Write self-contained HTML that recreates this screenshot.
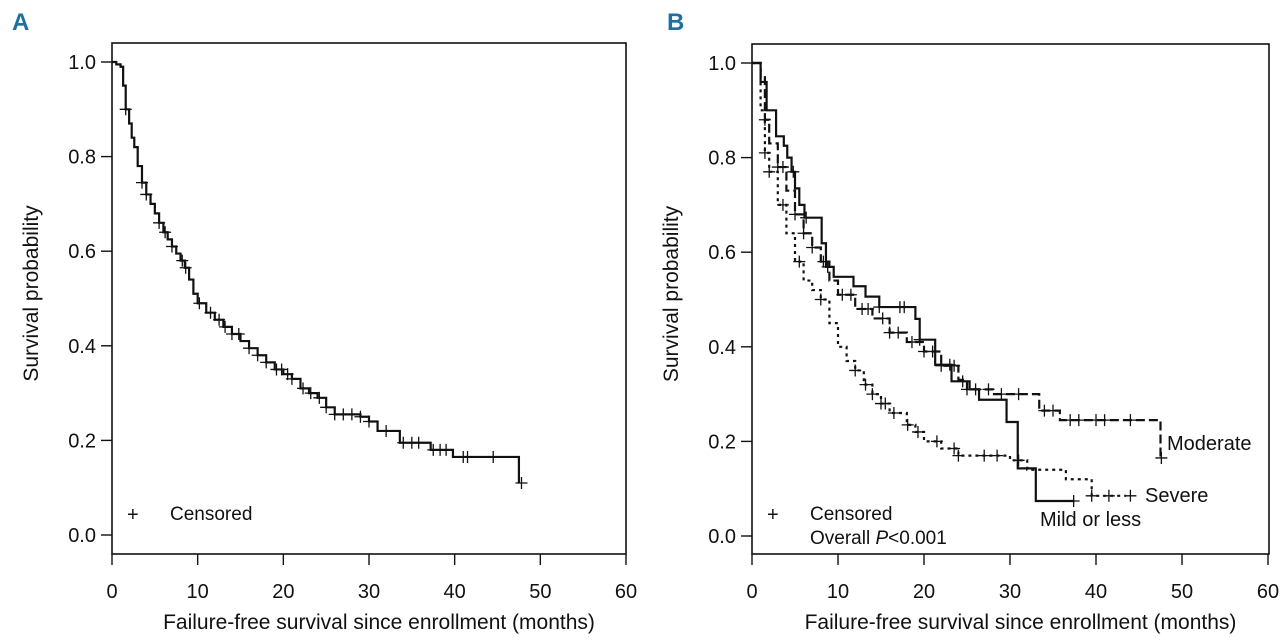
<!DOCTYPE html>
<html><head><meta charset="utf-8">
<style>
html,body{margin:0;padding:0;background:#fff;}
svg{display:block;}
text{font-family:"Liberation Sans Narrow","Liberation Sans",sans-serif;fill:#111;}
</style></head>
<body>
<svg id="chart" width="1280" height="644" viewBox="0 0 1280 644">
<text x="12" y="30" font-size="24" font-weight="bold" style="fill:#1f6fa0">A</text>
<text x="667" y="30" font-size="24" font-weight="bold" style="fill:#1f6fa0">B</text>
</svg>
<script>
// Panel A overall KM curve
const aTimes = [0,0.5,1,1.3,1.6,2,2.3,2.6,3,3.5,4,4.5,5,5.5,6,6.5,7,7.5,8,8.5,9,9.5,10,11,12,13,14,15,16,17,18,19,20,21,22,23,24,25,26,29,30,31,33.6,37.2,39.8,47.5];
const aSurv  = [1,0.995,0.99,0.95,0.9,0.87,0.84,0.82,0.78,0.745,0.72,0.70,0.68,0.66,0.64,0.625,0.61,0.595,0.58,0.565,0.54,0.51,0.49,0.47,0.455,0.44,0.425,0.41,0.395,0.38,0.365,0.35,0.34,0.33,0.31,0.3,0.29,0.27,0.255,0.25,0.24,0.22,0.195,0.18,0.165,0.11];
const aCensT = [1.6,3.5,4,5.5,6.2,7,8.2,8.6,10.2,11.5,12.5,13.2,14,14.8,16,17,18,19.2,19.8,20.5,21,22.3,23.2,24.2,25,26,27,28,29,30,32,34,35,35.8,37.5,38.3,39,41,41.5,44.5,47.8];
// Panel B groups
const mildT = [0,1,1.7,2.8,3.7,4.1,4.6,5,5.5,6.1,8.1,8.6,9.5,11.8,13.2,14.8,19,19.5,21.3,23.2,25.3,26.4,29.6,30.9,33,37.5];
const mildS = [1,0.96,0.9,0.845,0.825,0.8,0.77,0.735,0.7,0.673,0.619,0.569,0.548,0.528,0.506,0.484,0.459,0.415,0.362,0.327,0.31,0.288,0.241,0.143,0.074,0.074];
const mildCensT = [4.8,6.3,8.8,14.8,17.2,17.7,19.5,23,24.5,37.4];
const modT = [0,1,1.5,2,3,4,5,6,7,8,9,10,12,14,16,18,20,22,24,25,28,33.4,35.8,47.5,47.6];
const modS = [1,0.97,0.88,0.83,0.78,0.73,0.68,0.64,0.61,0.58,0.54,0.51,0.48,0.46,0.43,0.41,0.39,0.36,0.33,0.31,0.30,0.265,0.245,0.165,0.165];
const modCensT = [1.5,3,3.6,5,6,7,8.3,10.5,11.5,12.8,13.5,15.2,16,17,18.6,20,21,22,23.5,25,26,27.5,29,31,34,35,37,38,40,41,44,47.6];
const sevT = [0,1,1.5,2,3,4,5,6,7,8,9,10,11,12,13,14,15,16,18,19,20,22,24,28,30,32,36.5,39.5,43.5];
const sevS = [1,0.9,0.81,0.77,0.70,0.64,0.58,0.54,0.52,0.50,0.45,0.40,0.37,0.35,0.32,0.30,0.28,0.26,0.235,0.22,0.2,0.185,0.17,0.17,0.16,0.14,0.12,0.085,0.085];
const sevCensT = [1.5,2,3.6,5.5,8,12,13.2,14,15,15.5,16.5,18.1,19.3,21.5,23.5,24,27,28.5,31,39.5,41.5,44];
const xTicks = [0,10,20,30,40,50,60];
const yTicks = [0,0.2,0.4,0.6,0.8,1.0];

const NS='http://www.w3.org/2000/svg';
const svg=document.getElementById('chart');
function mk(tag,attrs,parent){const e=document.createElementNS(NS,tag);for(const k in attrs)e.setAttribute(k,attrs[k]);(parent||svg).appendChild(e);return e;}
function survAt(T,S,t){let s=S[0];for(let i=0;i<T.length;i++){if(T[i]<=t)s=S[i];}return s;}

function panel(cfg){
  const g=mk('g',{});
  
  
  const X=t=>cfg.x0+t*(cfg.x60-cfg.x0)/60;
  const Y=s=>cfg.y0-s*(cfg.y0-cfg.y1);
  const box=mk('rect',{x:cfg.bl,y:cfg.bt,width:cfg.br-cfg.bl,height:cfg.bb-cfg.bt,fill:'none',stroke:'#111','stroke-width':1.6},g);
  
  
  xTicks.forEach(v=>{
    mk('line',{x1:X(v),x2:X(v),y1:cfg.bb,y2:cfg.bb+11,stroke:'#111','stroke-width':1.4},g);
    const t=mk('text',{x:X(v),y:cfg.bb+44,'font-size':20,'text-anchor':'middle'},g);
    t.textContent=String(v);
    
    
  });
  yTicks.forEach(v=>{
    mk('line',{x1:cfg.bl-11,x2:cfg.bl,y1:Y(v),y2:Y(v),stroke:'#111','stroke-width':1.4},g);
    const t=mk('text',{x:cfg.bl-16,y:Y(v)+7,'font-size':20,'text-anchor':'end'},g);
    t.textContent=v.toFixed(1);
    
    
  });
  const xt=mk('text',{x:(cfg.bl+cfg.br)/2+10,y:629,'font-size':21,'text-anchor':'middle'},g);
  xt.textContent='Failure-free survival since enrollment (months)';
  
  
  const yt=mk('text',{x:0,y:0,'font-size':21,'text-anchor':'middle',transform:`translate(${cfg.bl-74},${(cfg.bt+cfg.bb)/2-5}) rotate(-90)`},g);
  yt.textContent='Survival probability';
  
  
  cfg.series.forEach(s=>{
    let d=`M${X(s.T[0])},${Y(s.S[0])}`;
    for(let i=1;i<s.T.length;i++){d+=` H${X(s.T[i])} V${Y(s.S[i])}`;}
    const p=mk('path',{d:d,fill:'none',stroke:'#111','stroke-width':2.2,'stroke-dasharray':s.dash||'none'},g);
    
    
    s.C.forEach(t=>{
      const cx=X(t),cy=Y(survAt(s.T,s.S,t));
      const c=mk('path',{d:`M${cx-6},${cy}H${cx+6}M${cx},${cy-6}V${cy+6}`,stroke:'#111','stroke-width':1.3},g);
      
      
    });
  });
  return {g,X,Y};
}

const pa=panel({name:'panel-a',bl:112,br:626,bt:43,bb:554,x0:112,x60:626,y0:535,y1:62,
  series:[{name:'overall-curve',T:aTimes,S:aSurv,C:aCensT}]});
const la=mk('text',{x:127,y:521,'font-size':20},pa.g);la.textContent='+';

const lb=mk('text',{x:170,y:520,'font-size':19},pa.g);lb.textContent='Censored';


const pb=panel({name:'panel-b',bl:752,br:1269,bt:44,bb:554,x0:752,x60:1268,y0:536,y1:63,
  series:[{name:'mild-curve',T:mildT,S:mildS,C:mildCensT},
          {name:'moderate-curve',T:modT,S:modS,C:modCensT,dash:'9,4'},
          {name:'severe-curve',T:sevT,S:sevS,C:sevCensT,dash:'3,4'}]});
const labels=[['+',767,521,20,'legend-censor-symbol-b'],['Censored',810,520,19,'legend-censored-b'],
 ['Moderate',1167,450,20,'label-moderate'],['Severe',1145,502,20,'label-severe'],['Mild or less',1040,526,20,'label-mild']];
labels.forEach(l=>{const t=mk('text',{x:l[1],y:l[2],'font-size':l[3]},pb.g);t.textContent=l[0];
 });
const pv=mk('text',{x:810,y:544,'font-size':19},pb.g);


pv.innerHTML='Overall <tspan font-style="italic">P</tspan>&lt;0.001';
</script>
</body></html>
